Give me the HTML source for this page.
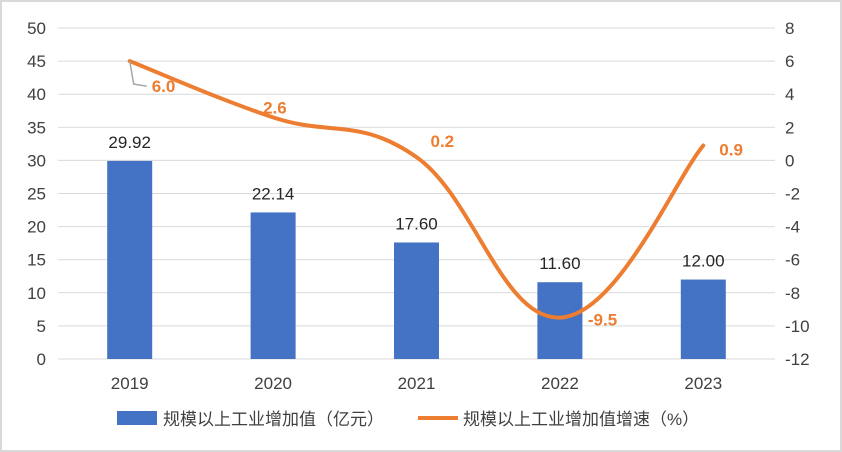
<!DOCTYPE html>
<html><head><meta charset="utf-8"><style>
body{margin:0;background:#fff;}
svg{display:block;font-family:"Liberation Sans","Noto Sans CJK SC",sans-serif;}
</style></head><body>
<svg id="c" width="842" height="452">
<rect x="1" y="1" width="840" height="450" fill="#fff" stroke="#d9d9d9" stroke-width="2"/>
<g id="g"></g>
</svg>
<script>
const categories=["2019","2020","2021","2022","2023"];
const barValues=[29.92,22.14,17.60,11.60,12.00];
const barLabels=["29.92","22.14","17.60","11.60","12.00"];
const lineValues=[6.0,2.6,0.2,-9.5,0.9];
const lineLabels=["6.0","2.6","0.2","-9.5","0.9"];
const leftTicks=[0,5,10,15,20,25,30,35,40,45,50];
const rightTicks=[-12,-10,-8,-6,-4,-2,0,2,4,6,8];

const NS="http://www.w3.org/2000/svg";
const g=document.getElementById('g');
const X0=58,X1=775,Y0=359,Y1=28;
const band=(X1-X0)/categories.length;
const xc=i=>X0+band*(i+0.5);
const yL=v=>Y0-(v-0)/50*(Y0-Y1);
const yR=v=>Y0-(v+12)/20*(Y0-Y1);
function el(t,a,txt){const e=document.createElementNS(NS,t);for(const k in a)e.setAttribute(k,a[k]);if(txt!=null)e.textContent=txt;g.appendChild(e);return e;}

leftTicks.forEach(v=>{
  const l=el('line',{x1:X0,x2:X1,y1:yL(v),y2:yL(v),stroke:'#d9d9d9','stroke-width':1});
  
  
  const t=el('text',{x:46,y:yL(v)+6,'text-anchor':'end','font-size':17,fill:'#404040'},String(v));
  
  
});
rightTicks.forEach(v=>{
  const t=el('text',{x:785,y:yR(v)+6,'text-anchor':'start','font-size':17,fill:'#404040'},String(v));
  
  
});
const bw=45;
barValues.forEach((v,i)=>{
  const r=el('rect',{x:xc(i)-bw/2,y:yL(v),width:bw,height:Y0-yL(v),fill:'#4472C4'});
  
  
  const t=el('text',{x:xc(i),y:yL(v)-13,'text-anchor':'middle','font-size':17,fill:'#262626'},barLabels[i]);
  
  
  const c=el('text',{x:xc(i),y:389,'text-anchor':'middle','font-size':17,fill:'#404040'},categories[i]);
  
  
});
// smooth line (catmull-rom)
const pts=lineValues.map((v,i)=>[xc(i),yR(v)]);
let d='M'+pts[0][0]+','+pts[0][1];
for(let i=0;i<pts.length-1;i++){
  const p0=pts[i-1]||pts[i],p1=pts[i],p2=pts[i+1],p3=pts[i+2]||p2;
  const k=1/5;
  d+=' C'+(p1[0]+(p2[0]-p0[0])*k)+','+(p1[1]+(p2[1]-p0[1])*k)+' '+(p2[0]-(p3[0]-p1[0])*k)+','+(p2[1]-(p3[1]-p1[1])*k)+' '+p2[0]+','+p2[1];
}
const path=el('path',{d:d,fill:'none',stroke:'#ED7D31','stroke-width':4,'stroke-linecap':'round'});


const offs=[[22,25],[-10,-10],[14,-16],[28,2],[16,4]];
lineValues.forEach((v,i)=>{
  const t=el('text',{x:pts[i][0]+offs[i][0],y:pts[i][1]+offs[i][1]+6,'font-size':17,'font-weight':'bold',fill:'#ED7D31'},lineLabels[i]);
  
  
});
// leaders
const ld=el('path',{d:`M${pts[0][0]} ${pts[0][1]} L${pts[0][0]+4} ${pts[0][1]+23} L${pts[0][0]+17} ${pts[0][1]+25}`,fill:'none',stroke:'#a6a6a6','stroke-width':1.5});


// legend
const lr=el('rect',{x:117,y:411,width:40,height:14,fill:'#4472C4'});


const lt=el('text',{x:163,y:425,'font-size':17,fill:'#404040'},'规模以上工业增加值（亿元）');


const ll=el('line',{x1:418,x2:458,y1:418,y2:418,stroke:'#ED7D31','stroke-width':4});


const lt2=el('text',{x:463,y:425,'font-size':17,fill:'#404040'},'规模以上工业增加值增速（%）');


</script>
</body></html>
